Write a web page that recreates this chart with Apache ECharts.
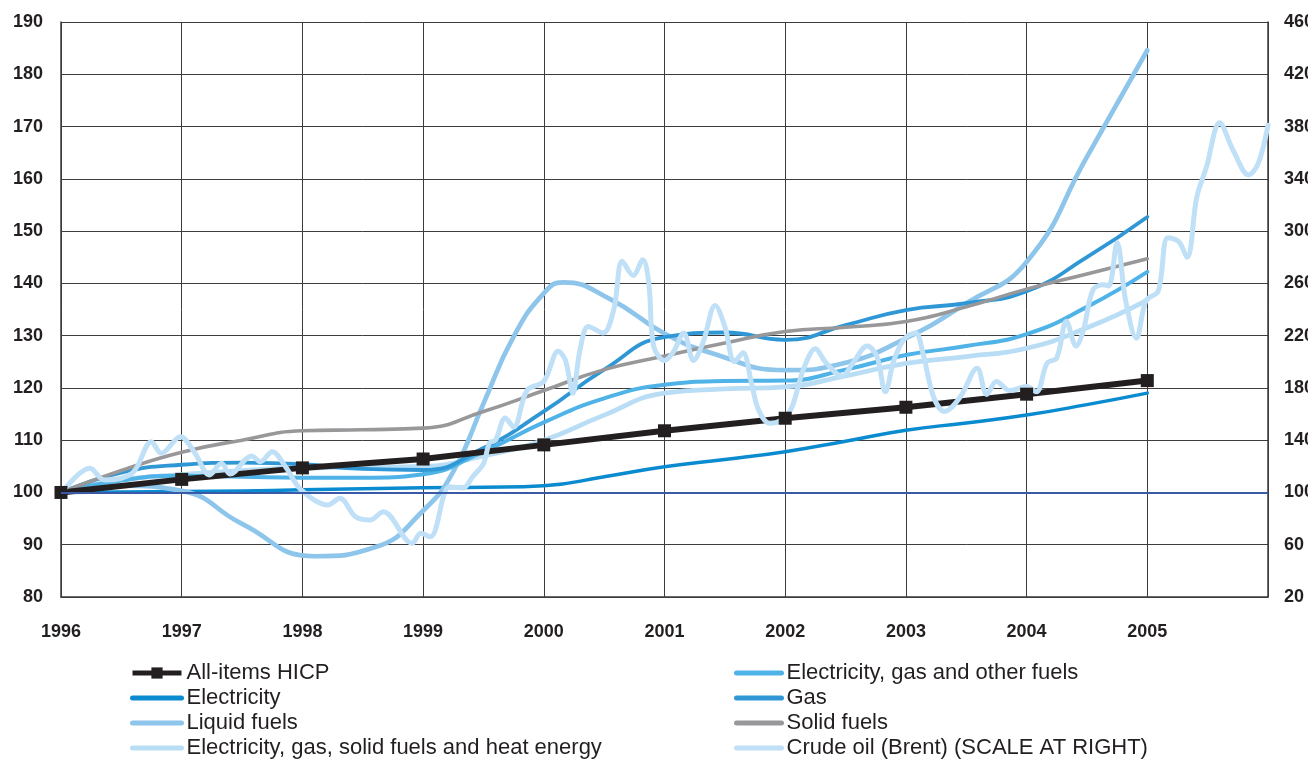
<!DOCTYPE html>
<html>
<head>
<meta charset="utf-8">
<script src="https://cdn.jsdelivr.net/npm/echarts@6/dist/echarts.min.js"></script>
<style>
html,body{margin:0;padding:0;background:#fff;overflow:hidden;}
#chart{width:1308px;height:763px;}
</style>
</head>
<body>
<div id="chart"></div>
<script>
// ---- DATA ----
var xTickLabels = ['1996','1997','1998','1999','2000','2001','2002','2003','2004','2005'];

var hicpYears = [1996,1997,1998,1999,2000,2001,2002,2003,2004,2005];
var hicpValues = [100,102.5,104.7,106.4,109.1,111.8,114.2,116.3,118.8,121.4];

var halfYears = [1996,1996.5,1997,1997.5,1998,1998.5,1999,1999.5,2000,2000.5,2001,2001.5,2002,2002.5,2003,2003.5,2004,2004.5,2005];
var electricity = [100,100.1,100.2,100.3,100.5,100.7,100.9,101,101.3,103,104.9,106.3,107.8,109.8,111.9,113.3,114.8,116.8,119.0];
var gas = [100,103.8,105.3,105.7,105.4,104.5,104.3,108.5,115.5,123.5,129.7,130.6,129.2,132,134.9,136.2,138.5,145,152.7];
var solidFuels = [100,104.2,107.7,110,111.8,112,112.3,115.5,119.5,123.5,126.1,128.6,130.8,131.6,132.7,135.5,138.9,141.8,144.7];
var elecGasOther = [100,102.3,103.2,103.0,102.8,102.8,103.5,107.8,113.4,118,120.6,121.3,121.4,123.5,126.3,128,130.3,135.5,142.2];
var elecGasSolidHeat = [100,102.4,103.4,104.2,104.7,104.8,105,107,110,114.8,119,119.8,120.2,122.3,124.7,126,127.6,131.5,136.8];

var liquidT = [1996,1996.5,1997,1997.5,1998.1,1998.6,1999,1999.25,1999.5,1999.75,2000,2000.16,2000.55,2001,2001.4,2002,2002.5,2003,2003.5,2004,2004.5,2005];
var liquidV = [100,101.3,100.3,94,87.8,89.5,96.5,104,117,129.8,138.1,140.2,137,130.4,126.6,123.4,124.8,129.5,136.2,144.1,164.2,184.6];

var crudeT = [1996.00,1996.24,1996.36,1996.59,1996.75,1996.83,1996.99,1997.11,1997.23,1997.33,1997.40,1997.58,1997.65,1997.75,1997.86,1997.99,
  1998.21,1998.31,1998.44,1998.56,1998.67,1998.91,1998.98,1999.06,1999.22,1999.33,1999.41,1999.50,1999.55,1999.60,1999.68,1999.75,1999.86,
  2000.00,2000.12,2000.18,2000.24,2000.30,2000.37,2000.49,2000.58,2000.65,2000.74,2000.82,2000.87,2000.91,
  2001.00,2001.07,2001.16,2001.24,2001.32,2001.42,2001.50,2001.58,2001.65,2001.72,2001.78,2001.87,2001.96,
  2002.05,2002.15,2002.25,2002.34,2002.47,2002.56,2002.68,2002.76,2002.83,2002.90,2002.99,
  2003.08,2003.14,2003.23,2003.32,2003.45,2003.59,2003.67,2003.75,2003.86,
  2004.00,2004.08,2004.17,2004.25,2004.33,2004.41,2004.47,2004.55,2004.64,2004.68,2004.75,2004.82,2004.91,2004.99,
  2005.09,2005.17,2005.26,2005.33,2005.41,2005.49,2005.60,2005.71,2005.84,2005.92,2006.00];
var crudeV = [99,118.5,109.5,114.7,138.8,130,142.7,130,113.4,122.3,114.1,127.9,123.5,131.2,119.7,101.9,
  90.4,95.5,81.4,78.9,85.3,61.1,68.7,66.1,104.4,103.4,112,122,138,140,157,150,178,
  185,208,201,176,209,227,222,240,277,266,278,260,212,
  201,207,222,201,215,243,227,200,207,184,163,153,155,
  164,194,210,199,189,199,212,204,177,201,218,
  222,207,173,162,173,195,175,185,178,
  181,177,199,203,231,212,224,255,259,258,291,247,218,247,
  254,295,292,280,326,349,383,362,343,352,381];

var seriesNames = {
  hicp:'All-items HICP', elec:'Electricity', liquid:'Liquid fuels', egsh:'Electricity, gas, solid fuels and heat energy',
  egof:'Electricity, gas and other fuels', gas:'Gas', solid:'Solid fuels', crude:'Crude oil (Brent) (SCALE AT RIGHT)'
};

function pairs(xs, ys){ return xs.map(function(x,i){ return [x, ys[i]]; }); }

var TXT = '#231f20';
var GRIDC = '#3c3c3c';
var axisFont = {fontFamily:'"Liberation Sans Narrow","Arial Narrow","Liberation Sans",Arial,sans-serif', fontWeight:'bold', fontSize:18, color:TXT};

var colors = {elec:'#0a8bd0', liquid:'#8ec5ea', egsh:'#b9ddf4', egof:'#4fb3e7', gas:'#2f97d5', solid:'#98989b', crude:'#bfe0f6'};

function line(key, data, width, yIdx, smooth){
  var c = colors[key];
  return {
    name:seriesNames[key], type:'line', data:data, yAxisIndex:yIdx||0,
    smooth: smooth===undefined?0.5:smooth, showSymbol:false, symbol:'none',
    lineStyle:{color:c, width:width, cap:'round', join:'round'}, itemStyle:{color:c},
    emphasis:{disabled:true}, animation:false
  };
}

var series = [
  line('elec', pairs(halfYears, electricity), 3.5),
  line('liquid', pairs(liquidT, liquidV), 4.7),
  line('egsh', pairs(halfYears, elecGasSolidHeat), 4.7),
  line('egof', pairs(halfYears, elecGasOther), 4),
  line('gas', pairs(halfYears, gas), 3.8),
  line('solid', pairs(halfYears, solidFuels), 3.6),
  {
    name:seriesNames.hicp, type:'line', data:pairs(hicpYears, hicpValues),
    symbol:'rect', symbolSize:13, showSymbol:true, smooth:false,
    lineStyle:{color:TXT, width:6}, itemStyle:{color:TXT},
    emphasis:{disabled:true}, animation:false,
    markLine:{silent:true, symbol:['none','none'], label:{show:false},
      lineStyle:{color:'#3a5aa7', width:2, type:'solid'},
      data:[{yAxis:100}]}
  },
  line('crude', pairs(crudeT, crudeV), 5, 1, 0.35)
];

var legendText = {fontFamily:'"Liberation Sans",Arial,sans-serif', fontSize:22, color:TXT, lineHeight:21};

function lineItem(key){
  return {name:seriesNames[key], itemStyle:{opacity:0}, lineStyle:{width:5, cap:'round'}};
}

var option = {
  backgroundColor:'#fff',
  animation:false,
  grid:{left:61, right:40, top:22, bottom:166, containLabel:false, outerBoundsMode:'none'},
  legend:[
    {orient:'vertical', left:130, top:662, height:120, padding:0, itemWidth:49, itemHeight:14, itemGap:3,
     textStyle:legendText, selectedMode:false,
     data:[{name:seriesNames.hicp, lineStyle:{width:5}}, lineItem('elec'), lineItem('liquid'), lineItem('egsh')]},
    {orient:'vertical', left:734, top:662, height:120, padding:0, itemWidth:45, itemHeight:14, itemGap:3,
     textStyle:legendText, selectedMode:false,
     data:[lineItem('egof'), lineItem('gas'), lineItem('solid'), lineItem('crude')]}
  ],
  xAxis:{
    type:'value', min:1996, max:2006, interval:1,
    axisLine:{show:true, lineStyle:{color:GRIDC, width:1.5}},
    axisTick:{show:false},
    axisLabel:Object.assign({margin:26, formatter:function(v){ var i=Math.round(v-1996); return xTickLabels[i]||''; }}, axisFont),
    splitLine:{show:true, lineStyle:{color:GRIDC, width:1}}
  },
  yAxis:[
    {type:'value', min:80, max:190, interval:10, position:'left',
     axisLine:{show:true, lineStyle:{color:GRIDC, width:1.5}},
     axisTick:{show:false},
     axisLabel:Object.assign({margin:18}, axisFont),
     splitLine:{show:true, lineStyle:{color:GRIDC, width:1}}},
    {type:'value', min:20, max:460, interval:40, position:'right',
     axisLine:{show:true, lineStyle:{color:GRIDC, width:1.5}},
     axisTick:{show:false},
     axisLabel:Object.assign({margin:16}, axisFont),
     splitLine:{show:false}}
  ],
  series:series
};

var chart = echarts.init(document.getElementById('chart'), null, {renderer:'canvas'});
chart.setOption(option);
</script>
</body>
</html>
